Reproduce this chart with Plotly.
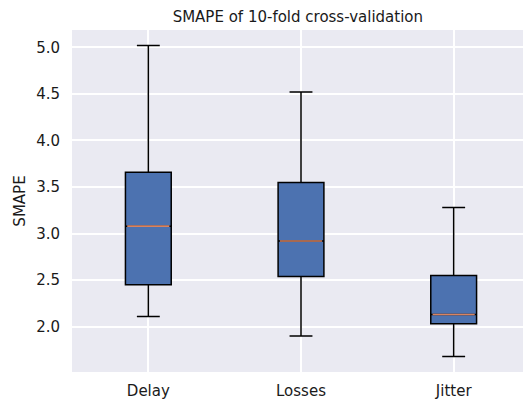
import plotly.graph_objects as go

categories = ["Delay", "Losses", "Jitter"]
lower = [2.11, 1.90, 1.68]
q1 = [2.45, 2.54, 2.03]
median = [3.08, 2.92, 2.13]
q3 = [3.66, 3.55, 2.55]
upper = [5.02, 4.52, 3.28]

positions = list(range(1, len(categories) + 1))
box_w = 0.3

# page body has an 8px margin; figure is offset by it
OFF = 8
W, H = 531 - OFF, 402 - OFF

fig = go.Figure()
for i, cat in enumerate(categories):
    fig.add_trace(go.Box(
        x=[positions[i]], q1=[q1[i]], median=[median[i]], q3=[q3[i]],
        lowerfence=[lower[i]], upperfence=[upper[i]],
        width=box_w, whiskerwidth=0.5,
        fillcolor="#4C72B0", line=dict(color="black", width=1.5),
        boxpoints=False, showlegend=False, hoverinfo="skip", name=cat,
    ))
    fig.add_trace(go.Scatter(
        x=[positions[i] - box_w / 2 + 0.012, positions[i] + box_w / 2 - 0.012],
        y=[median[i], median[i]], mode="lines",
        line=dict(color="#D9835F", width=1.6), showlegend=False, hoverinfo="skip",
    ))

dmin, dmax = min(lower), max(upper)
pad = 0.05 * (dmax - dmin)

fig.update_layout(
    width=W, height=H,
    margin=dict(l=72 - OFF, r=1, t=30 - OFF, b=30, autoexpand=False),
    paper_bgcolor="white", plot_bgcolor="#EAEAF2",
    font=dict(family="DejaVu Sans", size=15, color="#1a1a1a"),
    title=dict(text="SMAPE of 10-fold cross-validation", x=(72 - OFF + (W - 1)) / 2 / W - 0.006, xanchor="center",
               y=1 - (17 - OFF) / H, yanchor="middle", font=dict(size=15, color="#1a1a1a")),
    xaxis=dict(range=[0.5, 3.5], tickvals=positions, ticktext=categories,
               showgrid=True, gridcolor="white", gridwidth=1.5, zeroline=False,
               showline=False, ticks="", ticklabelstandoff=8),
    yaxis=dict(range=[dmin - pad, dmax + pad], tickvals=[2.0, 2.5, 3.0, 3.5, 4.0, 4.5, 5.0],
               tickformat=".1f", showgrid=True, gridcolor="white", gridwidth=1.5,
               zeroline=False, showline=False, ticks="", ticklabelstandoff=11,
               title=dict(text="SMAPE", font=dict(size=15), standoff=6)),
)

fig.write_html("out.html")
